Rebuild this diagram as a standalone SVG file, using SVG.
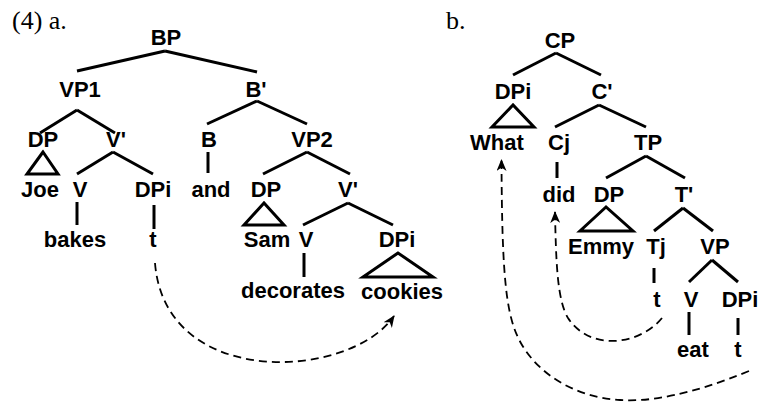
<svg xmlns="http://www.w3.org/2000/svg" width="759" height="402" viewBox="0 0 759 402">
<defs>
<style>
.lbl{font-family:"Liberation Sans",Arial,sans-serif;font-weight:bold;font-size:22px;text-anchor:middle;fill:#000}
.ser{font-family:"Liberation Serif","Times New Roman",serif;font-size:26px;fill:#000}
.br{stroke:#000;stroke-width:3;fill:none;stroke-linecap:butt}
.tri{stroke:#000;stroke-width:3;fill:none;stroke-linejoin:miter}
.mv{stroke:#000;stroke-width:1.8;fill:none;stroke-dasharray:8 5}
</style>
<marker id="ah" viewBox="0 0 12 10" refX="11" refY="5" markerWidth="12" markerHeight="10" markerUnits="userSpaceOnUse" orient="auto">
<path d="M0,0 L12,5 L0,10 L3.5,5 Z" fill="#000"/>
</marker>
</defs>
<rect width="759" height="402" fill="#fff"/>

<text class="ser" x="12" y="29">(4) a.</text>
<text class="ser" x="446" y="29">b.</text>

<g id="connectors">
<!-- tree a -->
<line class="br" x1="165" y1="51" x2="77" y2="71"/>
<line class="br" x1="165" y1="51" x2="257" y2="72"/>
<line class="br" x1="77" y1="110" x2="40" y2="133"/>
<line class="br" x1="77" y1="110" x2="115" y2="133"/>
<line class="br" x1="257" y1="101" x2="207" y2="124"/>
<line class="br" x1="257" y1="101" x2="307" y2="124"/>
<line class="br" x1="113" y1="152" x2="77" y2="174"/>
<line class="br" x1="113" y1="152" x2="153" y2="174"/>
<line class="br" x1="208" y1="152" x2="208" y2="173"/>
<line class="br" x1="307" y1="152" x2="263" y2="174"/>
<line class="br" x1="307" y1="152" x2="350" y2="174"/>
<line class="br" x1="77" y1="202" x2="77" y2="225"/>
<line class="br" x1="154" y1="205" x2="154" y2="229"/>
<line class="br" x1="348" y1="203" x2="303" y2="225"/>
<line class="br" x1="348" y1="203" x2="393" y2="225"/>
<line class="br" x1="304" y1="253" x2="304" y2="277"/>
<!-- tree b -->
<line class="br" x1="556" y1="53" x2="513" y2="75"/>
<line class="br" x1="556" y1="53" x2="601" y2="75"/>
<line class="br" x1="599" y1="105" x2="555" y2="127"/>
<line class="br" x1="599" y1="105" x2="646" y2="127"/>
<line class="br" x1="557" y1="162" x2="557" y2="178"/>
<line class="br" x1="646" y1="156" x2="606" y2="178"/>
<line class="br" x1="646" y1="156" x2="685" y2="178"/>
<line class="br" x1="683" y1="208" x2="654" y2="231"/>
<line class="br" x1="683" y1="208" x2="713" y2="231"/>
<line class="br" x1="654" y1="268" x2="654" y2="283"/>
<line class="br" x1="712" y1="260" x2="689" y2="282"/>
<line class="br" x1="712" y1="260" x2="738" y2="282"/>
<line class="br" x1="689" y1="312" x2="689" y2="335"/>
<line class="br" x1="738" y1="318" x2="738" y2="335"/>
<!-- movement arrows -->
<path class="mv" d="M155,263 C165,390 350,380 394,316" marker-end="url(#ah)"/>
<path class="mv" d="M662,318 C640,345 590,352 568,318 C557,300 556,260 555,212" marker-end="url(#ah)"/>
<path class="mv" d="M749,371 C690,395 650,402 620,400 C575,397 540,375 522,345 C506,318 502,280 501.5,160" marker-end="url(#ah)"/>
</g>

<!-- tree a nodes -->
<g id="a-BP"><text class="lbl" x="166" y="45">BP</text></g>
<g id="a-VP1"><text class="lbl" x="80" y="97">VP1</text></g>
<g id="a-B1"><text class="lbl" x="256" y="97">B'</text></g>
<g id="a-DP1"><text class="lbl" x="43" y="147">DP</text><polygon class="tri" points="43,152 27,174 58,174"/></g>
<g id="a-V1bar"><text class="lbl" x="116" y="147">V'</text></g>
<g id="a-B"><text class="lbl" x="209" y="147">B</text></g>
<g id="a-VP2"><text class="lbl" x="312" y="147">VP2</text></g>
<g id="a-Joe"><text class="lbl" x="40" y="197">Joe</text></g>
<g id="a-V1"><text class="lbl" x="80" y="197">V</text></g>
<g id="a-DPi1"><text class="lbl" x="153" y="197">DPi</text></g>
<g id="a-and"><text class="lbl" x="211" y="197">and</text></g>
<g id="a-DP2"><text class="lbl" x="266" y="197">DP</text><polygon class="tri" points="264,203 244,225 284,225"/></g>
<g id="a-V2bar"><text class="lbl" x="348" y="197">V'</text></g>
<g id="a-bakes"><text class="lbl" x="75" y="247">bakes</text></g>
<g id="a-t"><text class="lbl" x="153" y="247">t</text></g>
<g id="a-Sam"><text class="lbl" x="267" y="247">Sam</text></g>
<g id="a-V2"><text class="lbl" x="306" y="247">V</text></g>
<g id="a-DPi2"><text class="lbl" x="397" y="247">DPi</text><polygon class="tri" points="398,253 363,277 433,277"/></g>
<g id="a-decorates"><text class="lbl" x="293" y="298">decorates</text></g>
<g id="a-cookies"><text class="lbl" x="402" y="299">cookies</text></g>

<!-- tree b nodes -->
<g id="b-CP"><text class="lbl" x="560" y="48">CP</text></g>
<g id="b-DPi"><text class="lbl" x="513" y="99">DPi</text><polygon class="tri" points="513,105 492,127 534,127"/></g>
<g id="b-Cbar"><text class="lbl" x="602" y="99">C'</text></g>
<g id="b-What"><text class="lbl" x="497" y="150">What</text></g>
<g id="b-Cj"><text class="lbl" x="559" y="150">Cj</text></g>
<g id="b-TP"><text class="lbl" x="648" y="150">TP</text></g>
<g id="b-did"><text class="lbl" x="559" y="202">did</text></g>
<g id="b-DP"><text class="lbl" x="609" y="202">DP</text><polygon class="tri" points="606,207 580,231 633,231"/></g>
<g id="b-Tbar"><text class="lbl" x="684" y="202">T'</text></g>
<g id="b-Emmy"><text class="lbl" x="601" y="254">Emmy</text></g>
<g id="b-Tj"><text class="lbl" x="656" y="254">Tj</text></g>
<g id="b-VP"><text class="lbl" x="715" y="254">VP</text></g>
<g id="b-t1"><text class="lbl" x="657" y="307">t</text></g>
<g id="b-V"><text class="lbl" x="691" y="307">V</text></g>
<g id="b-DPi2"><text class="lbl" x="740" y="307">DPi</text></g>
<g id="b-eat"><text class="lbl" x="693" y="357">eat</text></g>
<g id="b-t2"><text class="lbl" x="738" y="357">t</text></g>
</svg>
